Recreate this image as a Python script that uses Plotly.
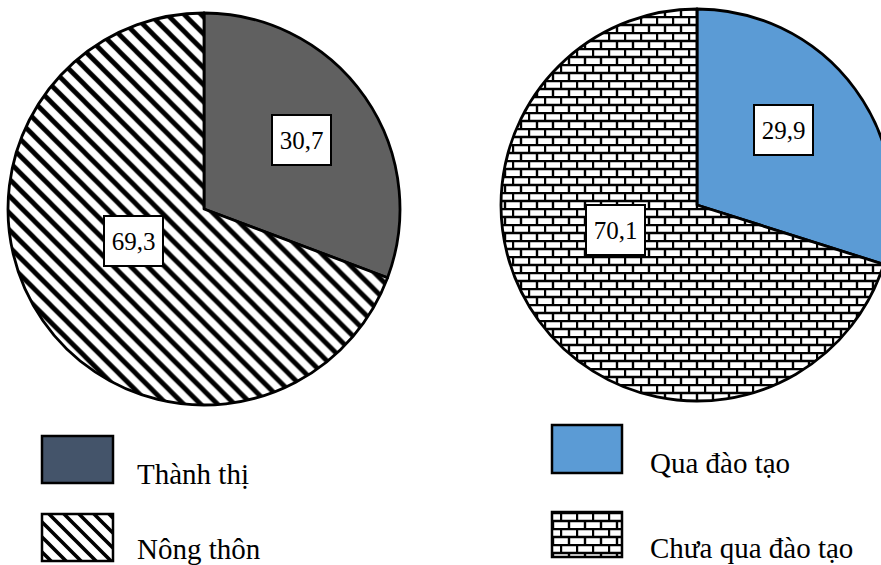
import plotly.graph_objects as go

# ---- data ----
left_labels = ["Thành thị", "Nông thôn"]
left_values = [30.7, 69.3]
right_labels = ["Qua đào tạo", "Chưa qua đào tạo"]
right_values = [29.9, 70.1]

W, H = 900, 565
FONT = "Liberation Serif"


def px(x):
    return x / W


def py(y):
    return 1 - y / H


def fmt(v):
    return f"{v:.1f}".replace(".", ",")


fig = go.Figure()

fig.add_trace(go.Pie(
    labels=left_labels, values=left_values, sort=False, direction="clockwise",
    rotation=0, textinfo="none", hoverinfo="skip", showlegend=False,
    domain=dict(x=[px(8), px(400)], y=[py(405), py(13)]),
    marker=dict(colors=["#606060", "white"],
                line=dict(color="black", width=2.8),
                pattern=dict(shape=["", "\\"], fgcolor="black", bgcolor="white",
                             size=12, solidity=0.4)),
))

fig.add_trace(go.Pie(
    labels=right_labels, values=right_values, sort=False, direction="clockwise",
    rotation=0, textinfo="none", hoverinfo="skip", showlegend=False,
    domain=dict(x=[px(501), px(893)], y=[py(401), py(9)]),
    marker=dict(colors=["#5B9BD5", "white"],
                line=dict(color="black", width=2.8)),
))

# value label boxes
label_pos = [(301, 140), (133, 241), (783, 130), (615, 230)]
all_values = left_values + right_values
annotations = []
for (x, y), v in zip(label_pos, all_values):
    annotations.append(dict(
        x=px(x), y=py(y), xref="paper", yref="paper", text=fmt(v), showarrow=False,
        xanchor="center", yanchor="middle", width=57, height=48,
        bgcolor="white", bordercolor="black", borderwidth=2, borderpad=0,
        font=dict(family=FONT, size=25, color="black"),
    ))

# legend boxes + texts
legend_boxes = [
    (42, 436, 113, 483, "#44546A"),
    (42, 514, 113, 561, "white"),
    (552, 425, 622, 473, "#5B9BD5"),
    (552, 512, 622, 557, "white"),
]
shapes = []
for x0, y0, x1, y1, c in legend_boxes:
    shapes.append(dict(type="rect", xref="paper", yref="paper",
                       x0=px(x0), x1=px(x1), y0=py(y1), y1=py(y0),
                       fillcolor=c, line=dict(color="black", width=2.5),
                       layer="above"))

legend_text_pos = [(135, 474), (135, 549), (648, 463), (648, 548)]
for (x, y), t in zip(legend_text_pos, left_labels + right_labels):
    annotations.append(dict(
        x=px(x), y=py(y), xref="paper", yref="paper", text=t, showarrow=False,
        xanchor="left", yanchor="middle",
        font=dict(family=FONT, size=29, color="black"),
    ))

fig.update_layout(
    width=W, height=H, margin=dict(l=0, r=0, t=0, b=0),
    paper_bgcolor="white", plot_bgcolor="white",
    font=dict(family=FONT, color="black"),
    shapes=shapes, annotations=annotations, showlegend=False,
)

post = """
document.documentElement.style.overflow = 'hidden';
document.body.style.overflow = 'hidden';
document.body.style.margin = '0';
var gd = document.getElementById('{plot_id}');
var svg = gd.querySelector('.main-svg');
var defs = svg.querySelector('defs');
var ns = 'http://www.w3.org/2000/svg';
function mk(id, w, h, inner) {
  var p = document.createElementNS(ns, 'pattern');
  p.setAttribute('id', id);
  p.setAttribute('patternUnits', 'userSpaceOnUse');
  p.setAttribute('width', w);
  p.setAttribute('height', h);
  p.innerHTML = inner;
  defs.appendChild(p);
}
mk('brickpat', 16, 16, '<rect width="16" height="16" fill="white"/>' +
   '<path d="M0,1H16M0,9H16M1,1V9M9,9V17" stroke="black" stroke-width="2.4" fill="none"/>');
mk('hatchpat', 15, 15, '<rect width="15" height="15" fill="white"/>' +
   '<path d="M0,0L15,15M-7.5,7.5L7.5,22.5M7.5,-7.5L22.5,7.5" stroke="black" stroke-width="3.6" fill="none"/>');
var traces = gd.querySelectorAll('.pielayer .trace');
if (traces.length > 1) {
  var sl = traces[1].querySelectorAll('.slice path.surface');
  if (sl.length > 1) { sl[1].style.fill = 'url(#brickpat)'; }
}
var shp = gd.querySelectorAll('.shapelayer path');
var hs = [];
shp.forEach(function(p){ hs.push(p); });
hs.forEach(function(p){
  var idx = p.getAttribute('data-index');
  if (idx === '1') { p.style.fill = 'url(#hatchpat)'; p.style.fillOpacity = 1; }
  if (idx === '3') { p.style.fill = 'url(#brickpat)'; p.style.fillOpacity = 1; }
});
"""

fig.write_html("out.html", post_script=post)
